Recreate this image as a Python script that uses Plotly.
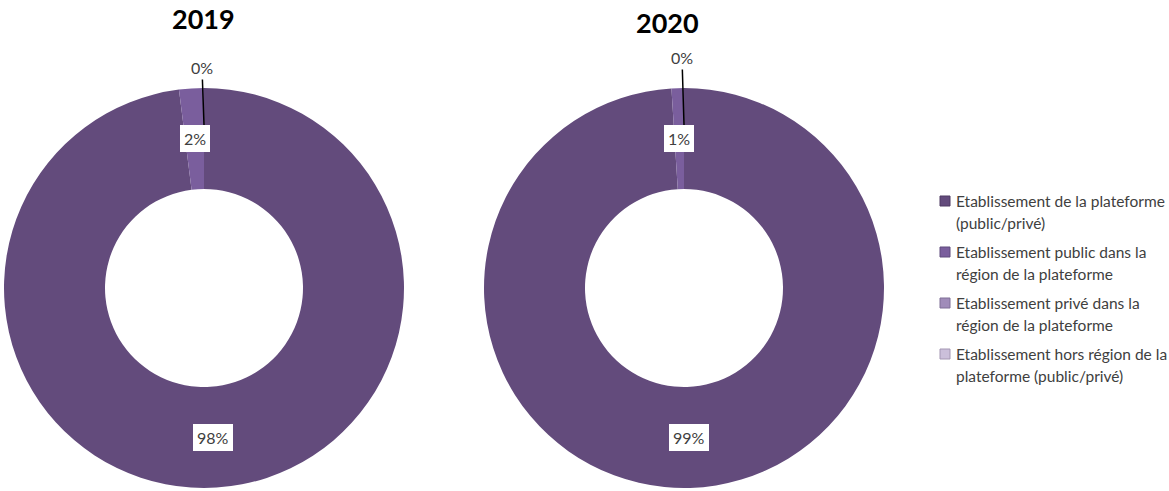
import math
import plotly.graph_objects as go

# Répartition des établissements, par année
categories = [
    "Etablissement de la plateforme<br>(public/privé)",
    "Etablissement public dans la<br>région de la plateforme",
    "Etablissement privé dans la<br>région de la plateforme",
    "Etablissement hors région de la<br>plateforme (public/privé)",
]
years = ["2019", "2020"]
values_2019 = [98, 2, 0, 0]
values_2020 = [99, 1, 0, 0]

colors = ["#634B7C", "#7A5E9D", "#A08CB9", "#CBBFDA"]
edge_colors = ["#4E3B63", "#5F4A7C", "#7F6E96", "#A497B3"]

W, H = 1169, 491
# donut geometry in pixels: centre x, centre y
donuts = [
    {"year": "2019", "values": values_2019, "cx": 204, "cy": 288, "title_x": 203, "title_y": 19, "zero_lab_r": 220},
    {"year": "2020", "values": values_2020, "cx": 684, "cy": 288, "title_x": 667, "title_y": 22, "zero_lab_r": 230},
]
R = 200
HOLE = 0.495
r_mid = R * (1 + HOLE) / 2
TEXT_FONT = dict(size=16, color="#404040", family="Lato")
LEGEND_FONT = dict(size=15.5, color="#404040", family="Lato")


def px(x):
    return x / W


def py(y):
    return 1 - y / H


fig = go.Figure()
annotations = []
shapes = []
for d in donuts:
    cx, cy = d["cx"], d["cy"]
    fig.add_trace(go.Pie(
        labels=[c.replace("<br>", " ") for c in categories],
        values=d["values"],
        sort=False,
        direction="clockwise",
        rotation=0,
        hole=HOLE,
        marker=dict(colors=colors, line=dict(width=0)),
        textinfo="none",
        hoverinfo="label+percent",
        showlegend=False,
        domain=dict(x=[px(cx - R), px(cx + R)], y=[py(cy + R), py(cy - R)]),
    ))
    annotations.append(dict(
        x=px(d["title_x"]), y=py(d["title_y"]), xref="paper", yref="paper",
        text="<b>%s</b>" % d["year"], showarrow=False,
        font=dict(size=27, color="#000000", family="Lato"),
        xanchor="center", yanchor="middle",
    ))
    total = sum(d["values"])
    cum = 0
    zero_done = False
    for v in d["values"]:
        theta = math.radians((cum + v / 2) / total * 360)
        cum += v
        if v > 0:
            lx = cx + r_mid * math.sin(theta)
            ly = cy - r_mid * math.cos(theta)
            annotations.append(dict(
                x=px(lx), y=py(ly), xref="paper", yref="paper",
                text="%d%%" % round(v / total * 100), showarrow=False,
                font=TEXT_FONT, bgcolor="#FFFFFF", borderpad=4, borderwidth=0,
                xanchor="center", yanchor="middle",
            ))
        elif not zero_done:
            zero_done = True
            tip_r = R * 0.815
            tx = cx + tip_r * math.sin(theta)
            ty = cy - tip_r * math.cos(theta)
            lab_y = cy - d["zero_lab_r"]
            annotations.append(dict(
                x=px(tx), y=py(ty), xref="paper", yref="paper",
                text="0%", showarrow=True, arrowhead=0, arrowwidth=1.5,
                arrowcolor="#000000", ax=-2, ay=lab_y - ty,
                font=TEXT_FONT, standoff=0, borderpad=2, borderwidth=0,
            ))

# legend: square swatch + two text lines per category
LEG_X, LEG_Y0, LEG_PITCH, LEG_LINE = 940, 201, 51, 21.5
for i, (name, c, ec) in enumerate(zip(categories, colors, edge_colors)):
    y0 = LEG_Y0 + i * LEG_PITCH
    shapes.append(dict(
        type="rect", xref="paper", yref="paper",
        x0=px(LEG_X), x1=px(LEG_X + 10), y0=py(y0 - 5), y1=py(y0 + 5),
        fillcolor=c, line=dict(color=ec, width=1),
    ))
    for j, line in enumerate(name.split("<br>")):
        annotations.append(dict(
            x=px(LEG_X + 15), y=py(y0 + j * LEG_LINE), xref="paper", yref="paper",
            text=line, showarrow=False, font=LEGEND_FONT,
            xanchor="left", yanchor="middle", borderpad=0,
        ))

fig.update_layout(
    width=W, height=H,
    margin=dict(l=0, r=0, t=0, b=0, autoexpand=False),
    paper_bgcolor="#FFFFFF",
    plot_bgcolor="#FFFFFF",
    font=dict(family="Lato", size=15, color="#404040"),
    showlegend=False,
    annotations=annotations,
    shapes=shapes,
)

fig.write_html("out.html")
